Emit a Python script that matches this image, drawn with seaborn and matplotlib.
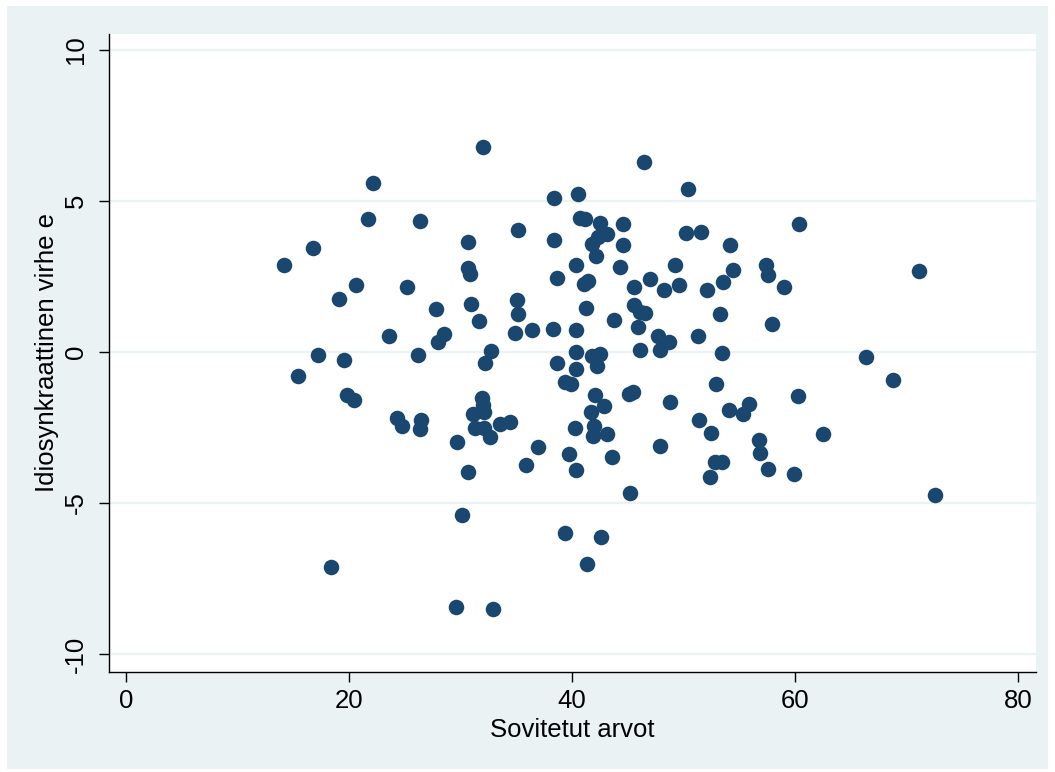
import numpy as np
import pandas as pd
import matplotlib
matplotlib.use("Agg")
import matplotlib.pyplot as plt
from matplotlib.patches import Rectangle
import seaborn as sns

# Fitted values (x) and idiosyncratic error (y) for each observation
sovitetut = [
    14.17, 15.43, 16.77, 17.22, 18.39, 19.10, 19.55, 19.82, 20.45, 20.63,
    21.70, 22.15, 23.59, 24.30, 24.75, 25.20, 26.19, 26.37, 26.46, 26.37,
    27.80, 27.98, 28.52, 29.60, 29.69, 30.13, 30.67, 30.67, 30.67, 30.85,
    30.94, 31.12, 31.30, 31.66, 32.02, 31.93, 32.02, 32.11, 32.11, 32.20,
    32.65, 32.74, 32.91, 33.54, 34.44, 34.89, 35.07, 35.16, 35.16, 35.87,
    36.41, 36.95, 38.30, 38.39, 38.39, 38.65, 38.65, 39.37, 39.37, 39.73,
    39.91, 40.27, 40.36, 40.36, 40.36, 40.36, 40.36, 40.54, 40.72, 41.17,
    41.08, 41.26, 41.35, 41.43, 41.79, 41.70, 41.79, 41.88, 41.97, 42.06,
    42.24, 42.15, 42.51, 42.33, 42.51, 42.60, 42.87, 43.14, 43.14, 43.59,
    43.77, 44.30, 44.57, 44.57, 45.11, 45.47, 45.20, 45.56, 45.56, 45.92,
    46.10, 46.55, 46.10, 46.46, 47.00, 47.71, 47.89, 47.89, 48.70, 48.25,
    48.79, 49.24, 49.60, 50.22, 50.40, 51.30, 51.57, 51.39, 52.11, 52.47,
    52.38, 52.83, 52.91, 53.27, 53.45, 53.45, 53.54, 54.08, 54.17, 54.44,
    55.34, 55.87, 56.77, 56.86, 57.40, 57.58, 57.58, 57.94, 59.01, 59.91,
    60.27, 60.36, 62.51, 66.37, 68.79, 71.12, 72.56,
]
virhe = [
    2.88, -0.79, 3.44, -0.10, -7.12, 1.75, -0.26, -1.42, -1.59, 2.22,
    4.40, 5.60, 0.53, -2.19, -2.45, 2.15, -0.10, 4.34, -2.25, -2.55,
    1.42, 0.33, 0.60, -8.44, -2.98, -5.40, 3.64, -3.97, 2.78, 2.58,
    1.59, -2.05, -2.52, 1.03, 6.79, -1.52, -1.75, -1.99, -2.52, -0.36,
    -2.81, 0.03, -8.51, -2.38, -2.32, 0.63, 1.72, 1.26, 4.04, -3.74,
    0.73, -3.14, 0.76, 3.71, 5.10, -0.36, 2.45, -0.99, -5.99, -3.38,
    -1.06, -2.52, 0.73, 0.00, -0.56, -3.91, 2.88, 5.23, 4.44, 4.40,
    2.25, 1.46, -7.02, 2.35, 3.58, -1.99, -0.13, -2.78, -2.45, -1.42,
    -0.46, 3.18, -0.06, 3.81, 4.27, -6.13, -1.79, -2.72, 3.91, -3.48,
    1.06, 2.81, 3.54, 4.24, -1.39, -1.32, -4.67, 1.56, 2.15, 0.83,
    1.32, 1.29, 0.07, 6.29, 2.42, 0.53, -3.11, 0.07, 0.33, 2.05,
    -1.66, 2.88, 2.22, 3.94, 5.40, 0.53, 3.97, -2.25, 2.05, -2.68,
    -4.14, -3.64, -1.06, 1.26, -3.64, -0.03, 2.32, -1.92, 3.54, 2.72,
    -2.05, -1.72, -2.91, -3.34, 2.88, 2.55, -3.87, 0.93, 2.15, -4.04,
    -1.45, 4.24, -2.72, -0.16, -0.93, 2.68, -4.74,
]

x_ticks = [0, 20, 40, 60, 80]
y_ticks = [-10, -5, 0, 5, 10]

df = pd.DataFrame({"Sovitetut arvot": sovitetut,
                   "Idiosynkraattinen virhe e": virhe})

sns.set_theme(style="white")
plt.rcParams["font.family"] = ["Liberation Sans", "DejaVu Sans"]
plt.rcParams["axes.unicode_minus"] = False

navy = "#1A476F"
panel = "#EAF2F3"

fig = plt.figure(figsize=(10.55, 7.72), dpi=100, facecolor="white")

# light outer panel behind the plot region
bg = fig.add_axes([0, 0, 1, 1], zorder=0)
bg.set_axis_off()
bg.add_patch(Rectangle((7 / 1055, 3 / 772), 1041 / 1055, 763 / 772,
                       transform=bg.transAxes, facecolor=panel,
                       edgecolor="none"))

ax = fig.add_axes([109 / 1055, 100 / 772, 927 / 1055, 638 / 772], zorder=1)
ax.set_facecolor("white")

for yv in y_ticks:
    ax.axhline(yv, color=panel, lw=1.6, zorder=0)

sns.scatterplot(data=df, x="Sovitetut arvot", y="Idiosynkraattinen virhe e",
                ax=ax, color=navy, s=125, linewidth=0, alpha=1, zorder=3)

ax.set_xlim(-1.5, 81.6)
ax.set_ylim(-10.6, 10.53)
ax.set_xticks(x_ticks)
ax.set_xticklabels([str(v) for v in x_ticks])
ax.set_yticks(y_ticks)
ax.set_yticklabels([str(v) for v in y_ticks], rotation=90, va="center")

for side in ("top", "right"):
    ax.spines[side].set_visible(False)
for side in ("left", "bottom"):
    ax.spines[side].set_color("black")
    ax.spines[side].set_linewidth(1.0)

ax.tick_params(axis="both", direction="out", length=7, width=1.0,
               color="black", labelsize=18.5, labelcolor="black", pad=5,
               bottom=True, left=True)
ax.tick_params(axis="y", pad=8)
ax.set_xlabel("Sovitetut arvot", fontsize=18.5, color="black", labelpad=4)
ax.set_ylabel("Idiosynkraattinen virhe e", fontsize=18.5, color="black",
              labelpad=4)

fig.savefig("out.png", dpi=100, facecolor="white")
